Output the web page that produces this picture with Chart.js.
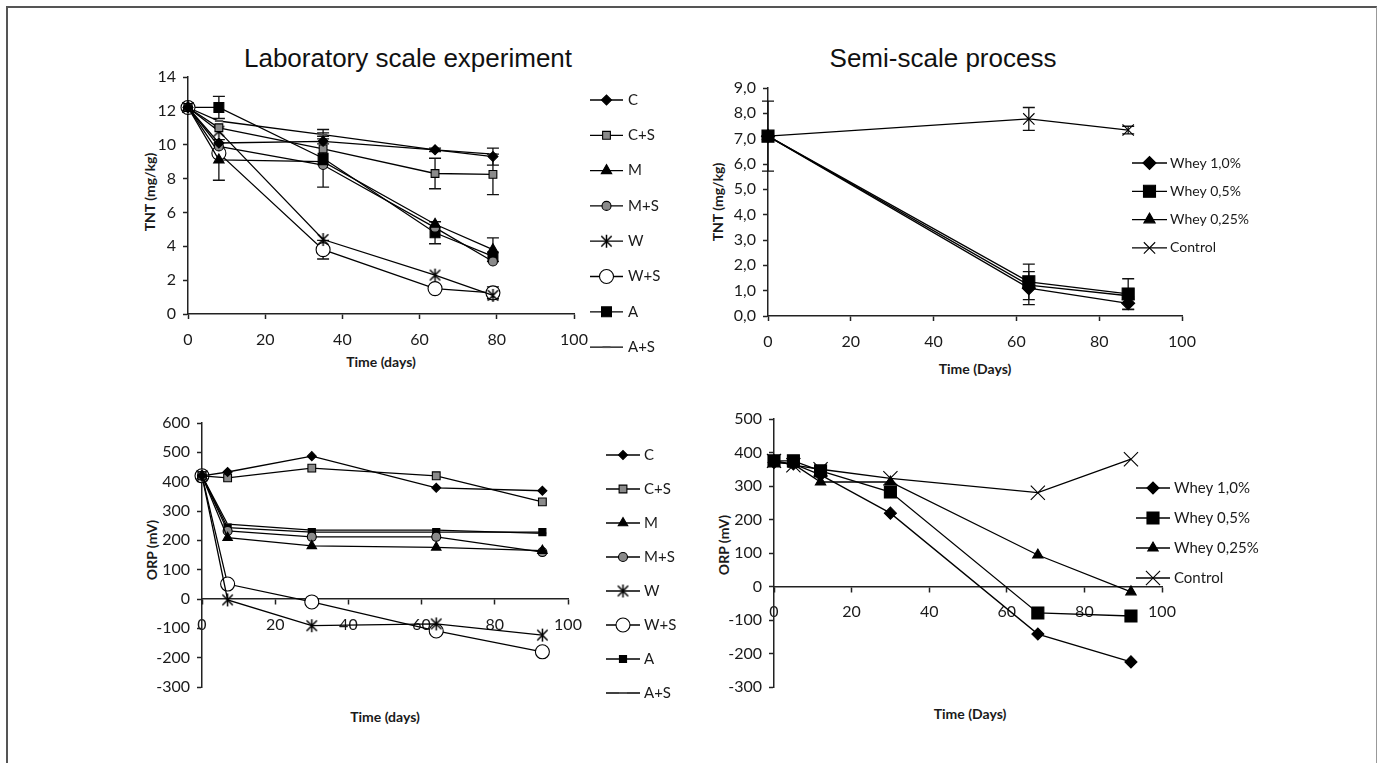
<!DOCTYPE html>
<html>
<head>
<meta charset="utf-8">
<script src="https://cdn.jsdelivr.net/npm/chart.js@4.4.1/dist/chart.umd.min.js"></script>
<style>
  body { margin: 0; background: #fff; width: 1382px; height: 763px; overflow: hidden; position: relative; font-family: Lato, sans-serif; }
  canvas { position: absolute; left: 0; top: 0; }
  .frame { position: absolute; left: 6px; top: 6px; width: 1371px; height: 800px; border-top: 2px solid #555; border-left: 2px solid #555; border-right: 1px solid #999; box-sizing: border-box; }
  .title { position: absolute; font-family: "Liberation Sans", Arial, sans-serif; font-size: 26px; color: #111; transform: translate(-50%, -50%); white-space: nowrap; }
  .lab { position: absolute; font-weight: bold; font-size: 14px; color: #1a1a1a; white-space: nowrap; transform: translate(-50%, -50%); }
  .rot { transform: translate(-50%, -50%) rotate(-90deg); }
</style>
</head>
<body>
<div class="frame"></div>
<div class="title" style="left:408px;top:58px">Laboratory scale experiment</div>
<div class="title" style="left:943px;top:58px">Semi-scale process</div>
<div class="lab rot" style="left:149px;top:192px">TNT (mg/kg)</div>
<div class="lab" style="left:381px;top:361px">Time (days)</div>
<div class="lab rot" style="left:717px;top:202px">TNT (mg/kg)</div>
<div class="lab" style="left:975px;top:368px">Time (Days)</div>
<div class="lab rot" style="left:151px;top:550px">ORP (mV)</div>
<div class="lab" style="left:385px;top:716px">Time (days)</div>
<div class="lab rot" style="left:723px;top:545px">ORP (mV)</div>
<div class="lab" style="left:970px;top:713px">Time (Days)</div>

<canvas id="tnt1" width="1382" height="763"></canvas>
<canvas id="tnt2" width="1382" height="763"></canvas>
<canvas id="orp1" width="1382" height="763"></canvas>
<canvas id="orp2" width="1382" height="763"></canvas>

<script>
// ---- laboratory scale, TNT (mg/kg) ----
const labNames = ["C", "C+S", "M", "M+S", "W", "W+S", "A", "A+S"];
const labTntDays = [0, 8, 35, 64, 79];
const labTntC  = [12.2, 10.1, 10.2, 9.7, 9.3];
const labTntCS = [12.2, 11.0, 9.75, 8.3, 8.25];
const labTntM  = [12.2, 9.1, 9.0, 5.3, 3.8];
const labTntMS = [12.2, 9.9, 8.8, 5.1, 3.1];
const labTntW  = [12.2, 10.8, 4.4, 2.3, 1.1];
const labTntWS = [12.2, 9.5, 3.8, 1.5, 1.25];
const labTntA  = [12.2, 12.2, 9.2, 4.8, 3.4];
const labTntAS = [12.2, 11.4, 10.6, 9.7, 9.45];
// error bars (+/-)
const labErrC  = [0, 0, 0.15, 0.1, 0.5];
const labErrCS = [0, 0, 0, 0.9, 1.2];
const labErrM  = [0, 1.2, 0, 0, 0.7];
const labErrWS = [0, 0, 0.55, 0, 0.35];
const labErrA  = [0, 0.65, 1.7, 0.65, 0];
const labErrAS = [0, 0, 0.1, 0, 0];

// ---- semi-scale, TNT (mg/kg) ----
const semiNames = ["Whey 1,0%", "Whey 0,5%", "Whey 0,25%", "Control"];
const semiTntDays = [0, 63, 87];
const semiTntW10  = [7.1, 1.1, 0.5];
const semiTntW05  = [7.1, 1.35, 0.87];
const semiTntW025 = [7.1, 1.22, 0.8];
const semiTntCtrl = [7.1, 7.78, 7.34];
const semiErrW10  = [0, 0.65, 0.25];
const semiErrW05  = [0, 0.7, 0.6];
const semiErrCtrl = [1.38, 0.45, 0.15];

// ---- laboratory scale, ORP (mV) ----
const labOrpDays = [0, 7, 30, 64, 93];
const labOrpC  = [420, 433, 487, 379, 369];
const labOrpCS = [420, 413, 446, 420, 331];
const labOrpM  = [420, 209, 181, 176, 165];
const labOrpMS = [420, 232, 212, 212, 160];
const labOrpW  = [420, -3, -91, -85, -123];
const labOrpWS = [420, 51, -10, -109, -180];
const labOrpA  = [420, 243, 228, 228, 228];
const labOrpAS = [420, 255, 235, 235, 224];

// ---- semi-scale, ORP (mV) ----
const semiOrpDays = [0, 5, 12, 30, 68, 92];
const semiOrpW10  = [370, 366, 333, 219, -142, -225];
const semiOrpW05  = [375, 375, 345, 282, -79, -88];
const semiOrpW025 = [375, 365, 312, 312, 94, -16];
const semiOrpCtrl = [375, 362, 350, 323, 280, 380];

Chart.defaults.font.family = "Lato, sans-serif";
Chart.defaults.font.size = 16;
Chart.defaults.color = "#1a1a1a";

// excel-like asterisk marker (X with a vertical bar)
function starImg(size) {
  const c = document.createElement("canvas");
  c.width = size; c.height = size;
  const g = c.getContext("2d");
  g.strokeStyle = "#000"; g.lineWidth = 1.5;
  const m = size / 2, r = size / 2 - 1;
  g.beginPath();
  g.moveTo(m - r * 0.8, m - r * 0.8); g.lineTo(m + r * 0.8, m + r * 0.8);
  g.moveTo(m + r * 0.8, m - r * 0.8); g.lineTo(m - r * 0.8, m + r * 0.8);
  g.moveTo(m, m - r); g.lineTo(m, m + r);
  g.stroke();
  return c;
}

const errorBars = {
  id: "errorBars",
  beforeDatasetsDraw(chart) {
    const ctx = chart.ctx, ys = chart.scales.y;
    ctx.save();
    ctx.strokeStyle = "#111";
    ctx.lineWidth = 1.3;
    chart.data.datasets.forEach((ds, i) => {
      if (!ds.errors) return;
      const meta = chart.getDatasetMeta(i);
      ds.errors.forEach((e, j) => {
        if (!e) return;
        const v = ds.data[j].y, x = meta.data[j].x;
        const t = ys.getPixelForValue(v + e), b = ys.getPixelForValue(v - e);
        ctx.beginPath();
        ctx.moveTo(x, t); ctx.lineTo(x, b);
        ctx.moveTo(x - 6, t); ctx.lineTo(x + 6, t);
        ctx.moveTo(x - 6, b); ctx.lineTo(x + 6, b);
        ctx.stroke();
      });
    });
    ctx.restore();
  }
};

const sideLegend = {
  id: "sideLegend",
  afterDraw(chart, args, o) {
    const ctx = chart.ctx;
    ctx.save();
    ctx.font = o.font;
    ctx.textBaseline = "middle";
    chart.data.datasets.forEach((ds, i) => {
      const y = o.y + i * o.dy;
      ctx.strokeStyle = "#000"; ctx.lineWidth = 1.3;
      ctx.beginPath(); ctx.moveTo(o.x, y); ctx.lineTo(o.x + o.len, y); ctx.stroke();
      ctx.fillStyle = ds.pointBackgroundColor;
      ctx.strokeStyle = ds.pointBorderColor;
      ctx.lineWidth = ds.pointBorderWidth;
      if (Chart.helpers && Chart.helpers.drawPoint) {
        Chart.helpers.drawPoint(ctx, { pointStyle: ds.pointStyle, radius: ds.pointRadius, borderWidth: ds.pointBorderWidth, rotation: 0 }, o.x + o.len / 2, y);
      }
      ctx.fillStyle = "#1a1a1a";
      ctx.fillText(ds.label, o.textX, y);
    });
    ctx.restore();
  }
};

function series(label, days, vals, style, radius, fill, errs) {
  return {
    label: label,
    data: days.map((d, i) => ({ x: d, y: vals[i] })),
    borderColor: "#000",
    borderWidth: 1.3,
    pointStyle: style,
    pointRadius: radius,
    pointHoverRadius: radius,
    pointBackgroundColor: fill,
    pointBorderColor: style === "line" ? "#555" : "#000",
    pointBorderWidth: style === "line" ? 2 : 1.1,
    errors: errs,
    clip: false,
    tension: 0
  };
}

function axisStyle() {
  return {
    grid: { drawOnChartArea: false, drawTicks: true, tickLength: 5, tickColor: "#222", tickWidth: 1.5 },
    border: { color: "#222", width: 1.5 }
  };
}

// box = [x0, y0, x1, y1] of plot area in page pixels
function panel(id, box, datasets, xs, ys, legend, crossAtZero) {
  const [x0, y0, x1, y1] = box;
  const yW = 50, xH = 40;
  new Chart(document.getElementById(id), {
    type: "line",
    data: { datasets: datasets },
    options: {
      responsive: false,
      animation: false,
      events: [],
      layout: { padding: { left: x0 - yW, top: y0, right: 1382 - x1, bottom: crossAtZero ? 763 - y1 : 763 - y1 - xH } },
      plugins: { legend: { display: false }, tooltip: { enabled: false }, sideLegend: legend },
      scales: {
        x: Object.assign(axisStyle(), {
          type: "linear", min: xs.min, max: xs.max,
          position: crossAtZero ? { y: 0 } : "bottom",
          ticks: { stepSize: xs.step, padding: 11, maxRotation: 0 },
          afterFit: s => { if (!crossAtZero) s.height = xH; }
        }),
        y: Object.assign(axisStyle(), {
          min: ys.min, max: ys.max,
          ticks: { stepSize: ys.step, padding: 7, callback: ys.fmt || (v => v) },
          afterFit: s => { s.width = yW; }
        })
      }
    },
    plugins: [errorBars, sideLegend]
  });
}

const star15 = starImg(15);
const gray = "#8a8a8a";

panel("tnt1", [188, 77, 574, 314], [
  series(labNames[0], labTntDays, labTntC, "rectRot", 5, "#000", labErrC),
  series(labNames[1], labTntDays, labTntCS, "rect", 5.5, gray, labErrCS),
  series(labNames[2], labTntDays, labTntM, "triangle", 6, "#000", labErrM),
  series(labNames[3], labTntDays, labTntMS, "circle", 4.5, gray, null),
  series(labNames[4], labTntDays, labTntW, star15, 7, "#000", null),
  series(labNames[5], labTntDays, labTntWS, "circle", 7, "#fff", labErrWS),
  series(labNames[6], labTntDays, labTntA, "rect", 7, "#000", labErrA),
  series(labNames[7], labTntDays, labTntAS, "line", 4, "#555", labErrAS)
], { min: 0, max: 100, step: 20 }, { min: 0, max: 14, step: 2 },
  { x: 590, len: 33, textX: 628, y: 100, dy: 35.3, font: "15px Lato" }, false);

const semiFmt = v => v.toFixed(1).replace(".", ",");
panel("tnt2", [768, 88, 1182, 316], [
  series(semiNames[0], semiTntDays, semiTntW10, "rectRot", 6.5, "#000", semiErrW10),
  series(semiNames[1], semiTntDays, semiTntW05, "rect", 8.5, "#000", semiErrW05),
  series(semiNames[2], semiTntDays, semiTntW025, "triangle", 6.5, "#000", null),
  series(semiNames[3], semiTntDays, semiTntCtrl, "crossRot", 8, "#000", semiErrCtrl)
], { min: 0, max: 100, step: 20 }, { min: 0, max: 9, step: 1, fmt: semiFmt },
  { x: 1132, len: 35, textX: 1170, y: 163, dy: 28.3, font: "14px Lato" }, false);

panel("orp1", [202, 423, 568, 687], [
  series(labNames[0], labOrpDays, labOrpC, "rectRot", 4.5, "#000", null),
  series(labNames[1], labOrpDays, labOrpCS, "rect", 5.5, gray, null),
  series(labNames[2], labOrpDays, labOrpM, "triangle", 5.5, "#000", null),
  series(labNames[3], labOrpDays, labOrpMS, "circle", 4.5, gray, null),
  series(labNames[4], labOrpDays, labOrpW, star15, 7, "#000", null),
  series(labNames[5], labOrpDays, labOrpWS, "circle", 7, "#fff", null),
  series(labNames[6], labOrpDays, labOrpA, "rect", 5, "#000", null),
  series(labNames[7], labOrpDays, labOrpAS, "line", 4, "#555", null)
], { min: 0, max: 100, step: 20 }, { min: -300, max: 600, step: 100 },
  { x: 606, len: 34, textX: 644, y: 455, dy: 34, font: "15px Lato" }, true);

panel("orp2", [774, 419, 1162, 687], [
  series(semiNames[0], semiOrpDays, semiOrpW10, "rectRot", 6, "#000", null),
  series(semiNames[1], semiOrpDays, semiOrpW05, "rect", 8.5, "#000", null),
  series(semiNames[2], semiOrpDays, semiOrpW025, "triangle", 6, "#000", null),
  series(semiNames[3], semiOrpDays, semiOrpCtrl, "crossRot", 10, "#000", null)
], { min: 0, max: 100, step: 20 }, { min: -300, max: 500, step: 100 },
  { x: 1136, len: 34, textX: 1174, y: 488, dy: 30, font: "15px Lato" }, true);
</script>
</body>
</html>
